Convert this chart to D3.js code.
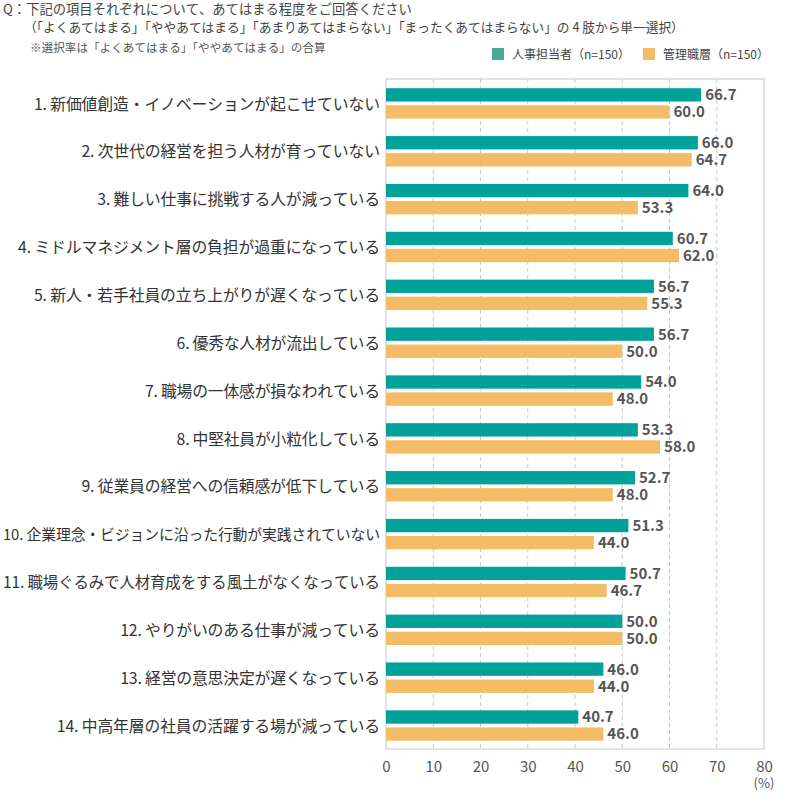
<!DOCTYPE html>
<html><head><meta charset="utf-8">
<script src="https://cdn.jsdelivr.net/npm/d3@7"></script>
<style>
body{margin:0;background:#fff;}
svg text{font-family:"Noto Sans CJK JP","Noto Sans",sans-serif;font-kerning:none;font-feature-settings:"kern" 0,"palt" 0;}
</style></head>
<body><svg id="c" width="790" height="792"></svg>
<script>
const categories = [
"1. 新価値創造・イノベーションが起こせていない",
"2. 次世代の経営を担う人材が育っていない",
"3. 難しい仕事に挑戦する人が減っている",
"4. ミドルマネジメント層の負担が過重になっている",
"5. 新人・若手社員の立ち上がりが遅くなっている",
"6. 優秀な人材が流出している",
"7. 職場の一体感が損なわれている",
"8. 中堅社員が小粒化している",
"9. 従業員の経営への信頼感が低下している",
"10. 企業理念・ビジョンに沿った行動が実践されていない",
"11. 職場ぐるみで人材育成をする風土がなくなっている",
"12. やりがいのある仕事が減っている",
"13. 経営の意思決定が遅くなっている",
"14. 中高年層の社員の活躍する場が減っている"
];
const seriesNames = ["人事担当者（n=150）","管理職層（n=150）"];
const hrValues = [66.7,66.0,64.0,60.7,56.7,56.7,54.0,53.3,52.7,51.3,50.7,50.0,46.0,40.7];
const mgrValues = [60.0,64.7,53.3,62.0,55.3,50.0,48.0,58.0,48.0,44.0,46.7,50.0,44.0,46.0];
const xTicks = [0,10,20,30,40,50,60,70,80];
const titleLines = [
"Q：下記の項目それぞれについて、あてはまる程度をご回答ください",
"（「よくあてはまる」「ややあてはまる」「あまりあてはまらない」「まったくあてはまらない」の 4 肢から単一選択）",
"※選択率は「よくあてはまる」「ややあてはまる」の合算"
];

(function(){
const colors = ["#00A199","#F5BC66"];
const legendColors = ["#4BA896","#F5BC66"];
const svg = d3.select("#c");
const pL=386, pR=764, pT=79, pB=749;
const x = d3.scaleLinear().domain([0,80]).range([pL,pR]);
const y = d3.scaleBand().domain(categories).range([pT,pB]);
const yi = d3.scaleBand().domain([0,1]).range([9.2,39.6]).paddingInner(0.22);

// title
svg.append("text").attr("x",3).attr("y",14).attr("font-size",13.3).attr("fill","#444").text(titleLines[0]);
svg.append("text").attr("x",24).attr("y",32).attr("font-size",12.7).attr("fill","#444").text(titleLines[1]);
svg.append("text").attr("x",30).attr("y",52).attr("font-size",11.6).attr("fill","#555").text(titleLines[2]);

// legend
const legX=[492,643];
seriesNames.forEach((s,i)=>{
  svg.append("rect").attr("x",legX[i]).attr("y",48).attr("width",12).attr("height",12).attr("fill",legendColors[i]);
  svg.append("text").attr("x",legX[i]+20).attr("y",58.5).attr("font-size",12).attr("fill","#444").text(s);
});

// grid
svg.append("g").selectAll("line").data(xTicks.slice(1,-1)).join("line")
  .attr("x1",d=>x(d)).attr("x2",d=>x(d)).attr("y1",pT).attr("y2",pB)
  .attr("stroke","#c8c8c8").attr("stroke-dasharray","4,3");
svg.append("rect").attr("x",pL).attr("y",pT).attr("width",pR-pL).attr("height",pB-pT)
  .attr("fill","none").attr("stroke","#c8c8c8");

// bars
const data = categories.map((c,i)=>({c, v:[hrValues[i],mgrValues[i]]}));
const g = svg.append("g").selectAll("g").data(data).join("g").attr("transform",d=>`translate(0,${y(d.c)})`);
g.selectAll("rect").data(d=>d.v.map((v,k)=>({v,k}))).join("rect")
  .attr("x",x(0)).attr("y",d=>yi(d.k)).attr("width",d=>x(d.v)-x(0)).attr("height",yi.bandwidth())
  .attr("fill",d=>colors[d.k]);
g.selectAll("text.val").data(d=>d.v.map((v,k)=>({v,k}))).join("text").attr("class","val")
  .attr("x",d=>x(d.v)+4).attr("y",d=>yi(d.k)+yi.bandwidth()/2).attr("dy","0.36em")
  .attr("font-size",15).attr("font-weight","bold").attr("fill","#555").text(d=>d3.format(".1f")(d.v));

// category labels: CJK characters set on a full-width grid, long labels shrunk to fit
const labelRight = 380, labelMaxW = 377, baseFs = 15.85;
const probe = svg.append("text").attr("font-size",baseFs).attr("visibility","hidden");
g.each(function(d){
  const m = d.c.match(/^[\x20-\x7e]*/)[0];
  const rest = d.c.length - m.length;
  probe.text(m);
  const prefW = probe.node().getComputedTextLength();
  let fs = baseFs, W = prefW + rest*baseFs;
  if (W > labelMaxW) { fs = baseFs*labelMaxW/W; W = labelMaxW; }
  d3.select(this).append("text").attr("x",labelRight).attr("y",y.bandwidth()/2+1).attr("dy","0.36em")
    .attr("text-anchor","end").attr("font-size",fs).attr("fill","#333")
    .attr("textLength",W).attr("lengthAdjust","spacing").text(d.c);
});
probe.remove();

// axis
const ax = svg.append("g").attr("transform",`translate(0,${pB})`).call(d3.axisBottom(x).tickValues(xTicks).tickSize(0).tickPadding(12));
ax.select(".domain").remove();
ax.selectAll("text").attr("font-size",15).attr("fill","#555").attr("font-family","'Noto Sans CJK JP',sans-serif");
svg.append("text").attr("x",x(80)).attr("y",788).attr("text-anchor","middle").attr("font-size",13).attr("fill","#555").text("(%)");
})();
</script></body></html>
